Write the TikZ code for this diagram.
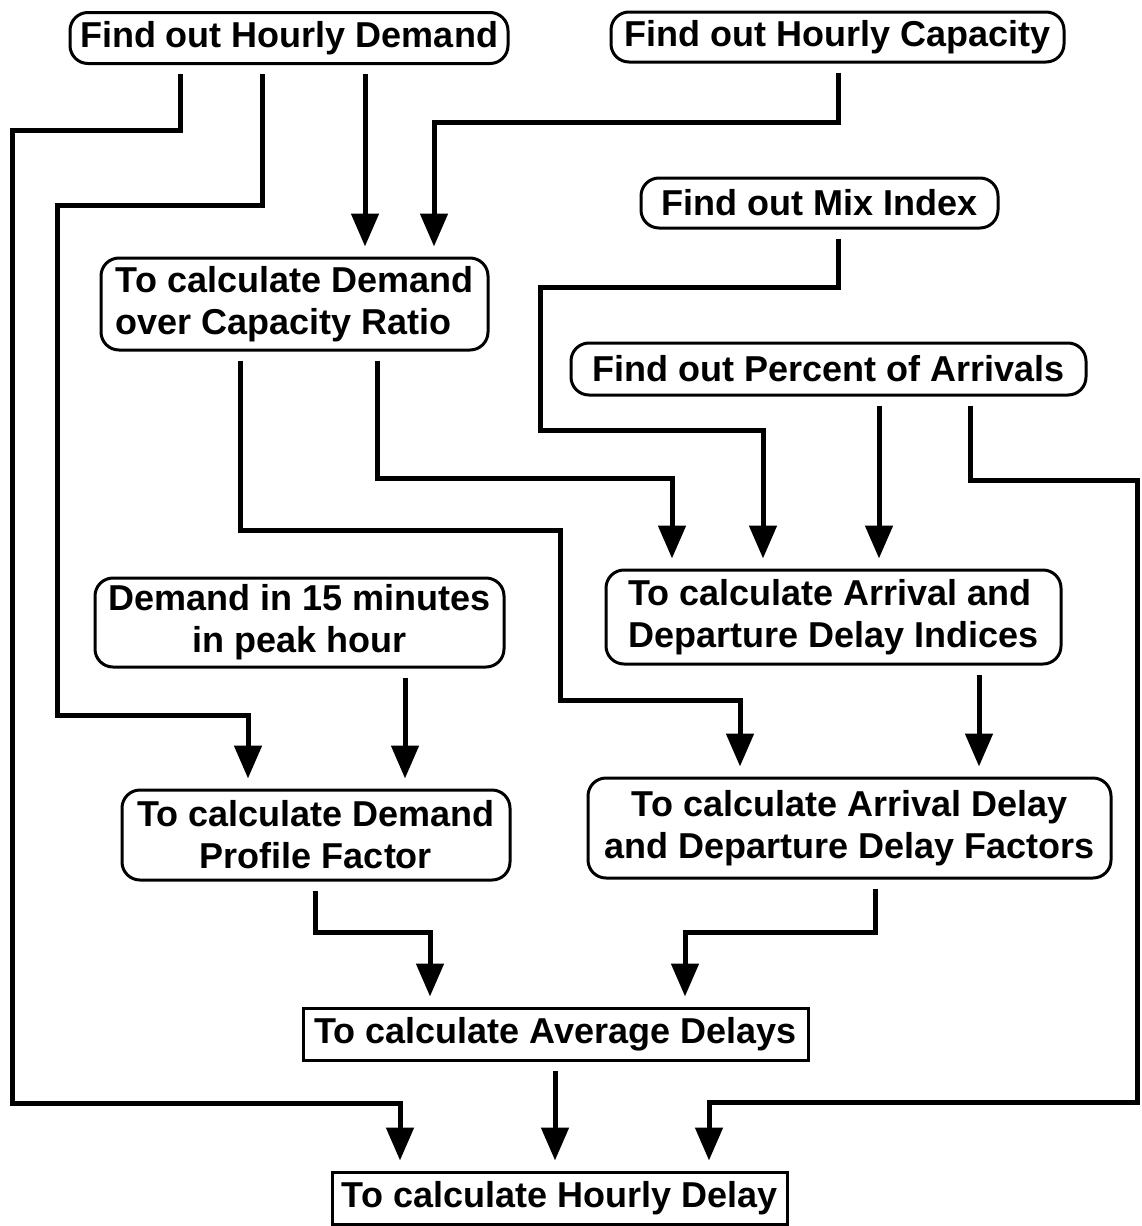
\documentclass[tikz,border=0pt]{standalone}
\usepackage{fontspec}
\setmainfont{Liberation Sans}
\usetikzlibrary{arrows.meta}
\begin{document}
\begin{tikzpicture}[x=1pt,y=-1pt,
  box/.style={draw,line width=3pt,rounded corners=18pt,inner sep=0pt,
    font=\bfseries\fontsize{36}{42}\selectfont},
  sqbox/.style={box,rounded corners=0pt},
  link/.style={line width=5pt,shorten <=9pt},
  flow/.style={link,-{Triangle[width=27pt,length=33pt]},shorten >=10pt}]
\useasboundingbox (0,0) rectangle (1141,1226);
\node[box,minimum width=438pt,minimum height=51pt] (hd) at (289,38) {Find out Hourly Demand};
\node[box,minimum width=453pt,minimum height=50pt] (hc) at (837.5,37) {Find out Hourly Capacity};
\node[box,minimum width=357pt,minimum height=50pt] (mi) at (819.5,203) {Find out Mix Index};
\node[box,minimum width=515pt,minimum height=52pt] (pa) at (828.5,369) {Find out Percent of Arrivals};
\node[box,align=left,minimum width=387pt,minimum height=92pt] (dc) at (294.5,304) {To calculate Demand\\over Capacity Ratio};
\node[box,align=left,minimum width=455pt,minimum height=94pt] (ad) at (833.5,617) {To calculate Arrival and\\Departure Delay Indices};
\node[box,align=center,minimum width=409pt,minimum height=89pt] (dm) at (299.5,622.5) {Demand in 15 minutes\\in peak hour};
\node[box,align=center,minimum width=388pt,minimum height=90pt] (pf) at (316,835) {To calculate Demand\\Profile Factor};
\node[box,align=center,minimum width=523pt,minimum height=100pt] (af) at (849.5,828) {To calculate Arrival Delay\\and Departure Delay Factors};
\node[sqbox,minimum width=505pt,minimum height=52pt] (av) at (555.5,1034) {To calculate Average Delays};
\node[sqbox,minimum width=455pt,minimum height=52pt] (hy) at (559.5,1198) {To calculate Hourly Delay};
\draw[flow] (180,0 |- hd.south) -- (180,130) -- (12,130) -- (12,1103) -- (400,1103) -- (400,0 |- hy.north);
\draw[flow] (262,0 |- hd.south) -- (262,205) -- (57,205) -- (57,715) -- (248,715) -- (248,0 |- pf.north);
\draw[flow] (365,0 |- hd.south) -- (365,0 |- dc.north);
\draw[flow] (838,0 |- hc.south) -- (838,122) -- (434,122) -- (434,0 |- dc.north);
\draw[flow] (838,0 |- mi.south) -- (838,287) -- (540,287) -- (540,430) -- (763,430) -- (763,0 |- ad.north);
\draw[flow] (879,0 |- pa.south) -- (879,0 |- ad.north);
\draw[flow] (970,0 |- pa.south) -- (970,480) -- (1137,480) -- (1137,1102) -- (709,1102) -- (709,0 |- hy.north);
\draw[flow] (377,0 |- dc.south) -- (377,478) -- (672,478) -- (672,0 |- ad.north);
\draw[flow] (240,0 |- dc.south) -- (240,530) -- (560,530) -- (560,700) -- (740,700) -- (740,0 |- af.north);
\draw[flow] (979,0 |- ad.south) -- (979,0 |- af.north);
\draw[flow] (405,0 |- dm.south) -- (405,0 |- pf.north);
\draw[flow] (315,0 |- pf.south) -- (315,932) -- (430,932) -- (430,0 |- av.north);
\draw[flow] (875,0 |- af.south) -- (875,932) -- (685,932) -- (685,0 |- av.north);
\draw[flow] (555,0 |- av.south) -- (555,0 |- hy.north);
\end{tikzpicture}
\end{document}
